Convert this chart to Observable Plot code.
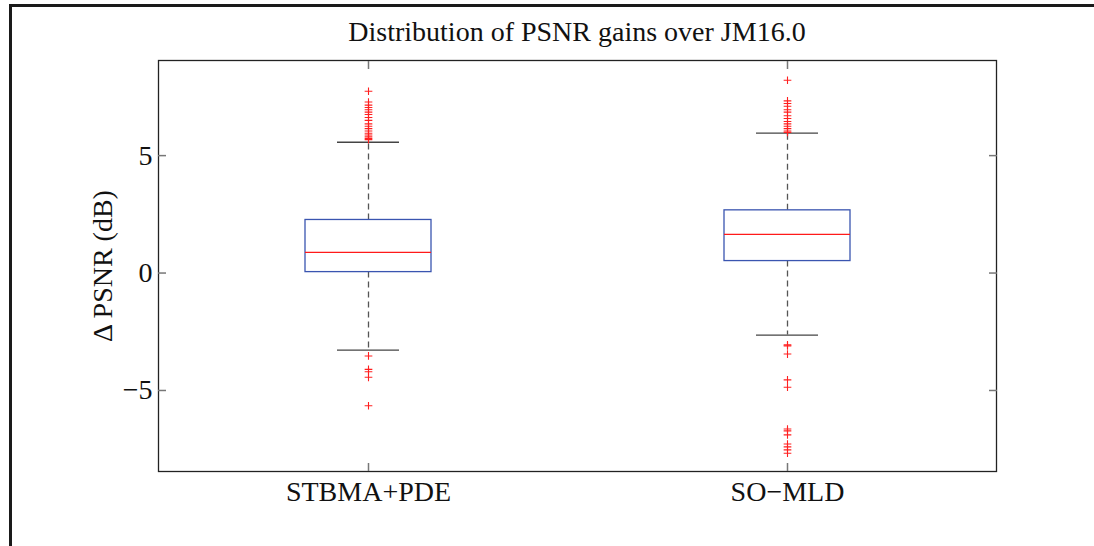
<!DOCTYPE html>
<html>
<head>
<meta charset="utf-8">
<script src="https://cdn.jsdelivr.net/npm/d3@7"></script>
<script src="https://cdn.jsdelivr.net/npm/@observablehq/plot@0.6"></script>
<style>
  body { margin: 0; background: #fff; }
  #wrap { position: relative; width: 1094px; height: 546px; overflow: hidden; }
  #border { position: absolute; left: 9px; top: 4px; width: 1100px; height: 560px;
            border-left: 3px solid #1a1a1a; border-top: 3px solid #1a1a1a; }
  #title { position: absolute; top: 14px; left: 158px; width: 838px; text-align: center;
           font-family: "Liberation Serif", serif; font-size: 28px; line-height: 36px; color: #111; }
  #chart { position: absolute; left: 0; top: 0; }
</style>
</head>
<body>
<div id="wrap">
  <div id="chart"></div>
  <div id="border"></div>
  <div id="title">Distribution of PSNR gains over JM16.0</div>
</div>
<script>
const categories = ["STBMA+PDE", "SO\u2212MLD"];
const q1 = [0.04, 0.51];
const median = [0.88, 1.65];
const q3 = [2.26, 2.67];
const whiskerLow = [-3.28, -2.64];
const whiskerHigh = [5.57, 5.96];
const outliersA = [7.74, 7.28, 7.15, 7.05, 6.95, 6.85, 6.75, 6.62, 6.5, 6.35, 6.25, 6.15, 6.05, 5.95, 5.88, 5.8, 5.73, 5.68,
                   -3.53, -4.1, -4.2, -4.44, -5.65];
const outliersB = [8.21, 7.33, 7.22, 7.1, 6.95, 6.85, 6.7, 6.58, 6.45, 6.35, 6.25, 6.15, 6.05, 5.99,
                   -3.06, -3.1, -3.45, -4.55, -4.86, -6.64, -6.72, -6.89, -7.28, -7.4, -7.53, -7.67];
const yTicks = [-5, 0, 5];

const boxes = categories.map((c, i) => ({cat: c, q1: q1[i], med: median[i], q3: q3[i], lo: whiskerLow[i], hi: whiskerHigh[i]}));
const outliers = [
  ...outliersA.map(v => ({cat: categories[0], v})),
  ...outliersB.map(v => ({cat: categories[1], v}))
];

const font = "Liberation Serif, serif";
const chart = Plot.plot({
  width: 1094,
  height: 546,
  marginLeft: 158,
  marginRight: 98,
  marginTop: 60,
  marginBottom: 75,
  style: {fontFamily: font, fontSize: "28px", background: "transparent", color: "#111"},
  x: {type: "band", domain: categories, paddingInner: 0.7, paddingOuter: 0.35},
  y: {domain: [-8.45, 9.05]},
  marks: [
    Plot.frame({stroke: "#222", strokeWidth: 1.3}),
    // y axis labels and inward ticks
    Plot.axisY(yTicks, {anchor: "left", tickSize: 0, tickPadding: 6, fontSize: 28, label: "\u0394 PSNR (dB)", labelAnchor: "center", labelArrow: "none", labelOffset: 66}),
    Plot.axisY(yTicks, {anchor: "left", tickSize: -8, text: null, label: null, stroke: "#777", strokeWidth: 1.5}),
    Plot.axisY(yTicks, {anchor: "right", tickSize: -8, text: null, label: null, stroke: "#777", strokeWidth: 1.5}),
    // x axis labels and inward ticks
    Plot.axisX({anchor: "bottom", tickSize: 0, tickPadding: 10, fontSize: 28, label: null}),
    Plot.axisX({anchor: "bottom", tickSize: -8, text: null, label: null, stroke: "#777", strokeWidth: 1.5}),
    Plot.axisX({anchor: "top", tickSize: -8, text: null, label: null, stroke: "#777", strokeWidth: 1.5}),
    // whiskers
    Plot.ruleX(boxes, {x: "cat", y1: "q3", y2: "hi", stroke: "#555", strokeWidth: 1.3, strokeDasharray: "6,4"}),
    Plot.ruleX(boxes, {x: "cat", y1: "q1", y2: "lo", stroke: "#555", strokeWidth: 1.3, strokeDasharray: "6,4"}),
    Plot.tickY(boxes, {x: "cat", y: "hi", stroke: "#444", strokeWidth: 1.3, insetLeft: 32, insetRight: 32}),
    Plot.tickY(boxes, {x: "cat", y: "lo", stroke: "#444", strokeWidth: 1.3, insetLeft: 32, insetRight: 32}),
    // box
    Plot.barY(boxes, {x: "cat", y1: "q1", y2: "q3", fill: "none", stroke: "#3a55b0", strokeWidth: 1.3}),
    // median
    Plot.tickY(boxes, {x: "cat", y: "med", stroke: "#ff1a1a", strokeWidth: 1.3}),
    // outliers
    Plot.dot(outliers, {x: "cat", y: "v", symbol: "plus", r: 2.6, stroke: "#ff2020", strokeWidth: 1.1})
  ]
});
document.getElementById("chart").appendChild(chart);
</script>
</body>
</html>
